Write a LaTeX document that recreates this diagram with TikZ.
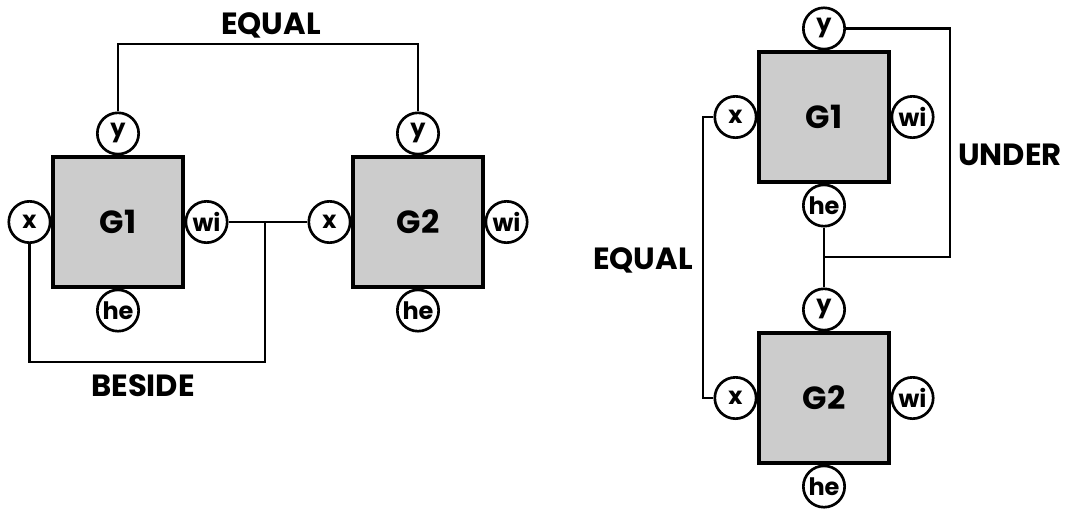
\documentclass[tikz,border=0pt]{standalone}
\usepackage{fontspec}
\setmainfont{Poppins}
\usetikzlibrary{positioning}

\begin{document}
\begin{tikzpicture}[x=0.75pt, y=-0.75pt, node distance=0pt, line join=miter,
    gbox/.style={draw, line width=2.8pt, fill=black!20, minimum size=97pt, inner sep=0pt, font=\fontsize{24}{26}\selectfont\bfseries},
    port/.style={draw, circle, line width=2pt, fill=white, inner sep=0pt, minimum size=31pt, font=\fontsize{18}{20}\selectfont\bfseries},
    wire/.style={line width=2.2pt},
    tag/.style={font=\fontsize{23}{26}\selectfont\bfseries}]
    \useasboundingbox (0,0) rectangle (1067,508);

    % left: G1 beside G2
    \node [gbox] (g1l) at (118,222) {G1};
    \node [port, above=of g1l] (y1l) {y};
    \node [port, left=of g1l] (x1l) {x};
    \node [port, right=of g1l] (wi1l) {wi};
    \node [port, below=of g1l] (he1l) {he};

    \node [gbox] (g2l) at (418,222) {G2};
    \node [port, above=of g2l] (y2l) {y};
    \node [port, left=of g2l] (x2l) {x};
    \node [port, right=of g2l] (wi2l) {wi};
    \node [port, below=of g2l] (he2l) {he};

    \coordinate (eqtop) at (270,44);
    \coordinate (besj) at (265,222);
    \coordinate (besbot) at (148,362);

    \draw[wire] (y1l) |- (eqtop) -| (y2l);
    \draw[wire] (wi1l) -- (x2l);
    \draw[wire] (besj) |- (besbot) -| (x1l);

    \node [tag] (eqlab) at (271,25) {EQUAL};
    \node [tag] (beslab) at (143,386) {BESIDE};

    % right: G1 under G2
    \node [gbox] (g1r) at (824,117) {G1};
    \node [port, above=of g1r] (y1r) {y};
    \node [port, left=of g1r] (x1r) {x};
    \node [port, right=of g1r] (wi1r) {wi};
    \node [port, below=of g1r] (he1r) {he};

    \node [gbox] (g2r) at (824,398) {G2};
    \node [port, above=of g2r] (y2r) {y};
    \node [port, left=of g2r] (x2r) {x};
    \node [port, right=of g2r] (wi2r) {wi};
    \node [port, below=of g2r] (he2r) {he};

    \coordinate (undc) at (950,257);
    \coordinate (undj) at (824,257);
    \coordinate (eqrl) at (703,260);

    \draw[wire] (he1r) -- (y2r);
    \draw[wire] (y1r) -| (undc) -- (undj);
    \draw[wire] (x1r) -| (eqrl) |- (x2r);

    \node [tag] (undlab) at (1010,155) {UNDER};
    \node [tag] (eqrlab) at (643,260) {EQUAL};
\end{tikzpicture}
\end{document}
